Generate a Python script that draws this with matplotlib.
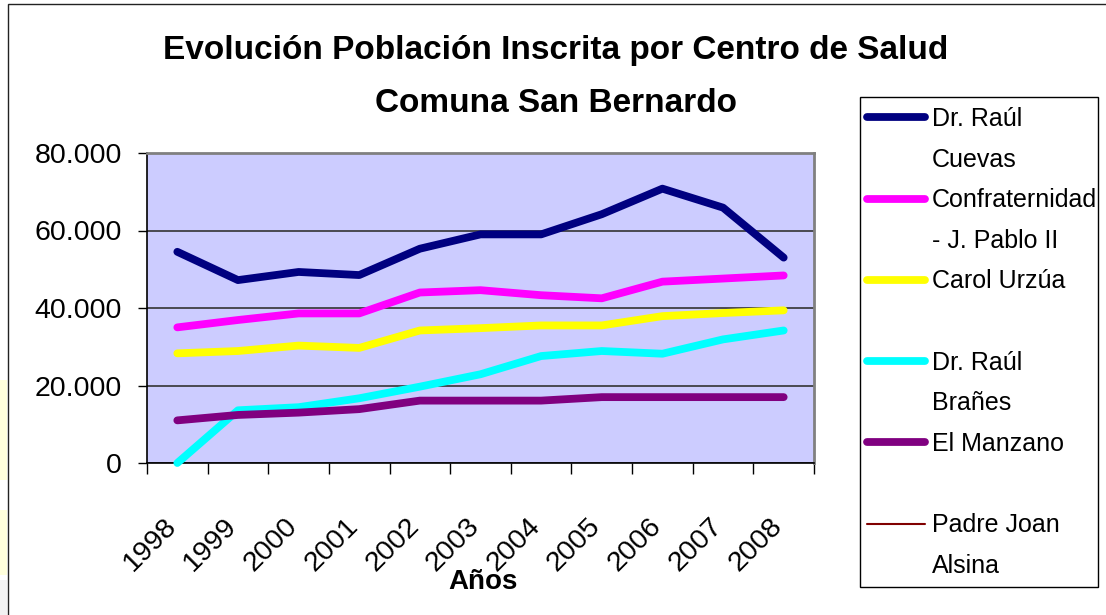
import matplotlib
matplotlib.use("Agg")
import numpy as np
import matplotlib.pyplot as plt
import matplotlib.transforms as mtransforms
from matplotlib.lines import Line2D
from matplotlib.patches import Rectangle
from matplotlib import font_manager as fm
from matplotlib.ticker import FuncFormatter, FixedLocator

# data
years = ["1998", "1999", "2000", "2001", "2002", "2003",
         "2004", "2005", "2006", "2007", "2008"]
cuevas = [54500, 47200, 49300, 48500, 55300, 59000, 59000, 64200, 70800, 65900, 53000]
confraternidad = [35000, 36900, 38600, 38600, 44000, 44600, 43300, 42500, 46800, 47600, 48400]
urzua = [28300, 28900, 30300, 29700, 34200, 34800, 35500, 35500, 37900, 38700, 39400]
branes = [0, 13600, 14400, 16700, 19700, 22900, 27600, 28900, 28200, 31900, 34200]
manzano = [11000, 12400, 13000, 13900, 16100, 16100, 16100, 17000, 17000, 17000, 17000]
alsina = [None, None, None, None, None, None, None, None, None, None, None]

series = [
    (["Dr. Raúl", "Cuevas"], cuevas, "#000080", 5.6),
    (["Confraternidad", "- J. Pablo II"], confraternidad, "#FF00FF", 5.6),
    (["Carol Urzúa", " "], urzua, "#FFFF00", 5.6),
    (["Dr. Raúl", "Brañes"], branes, "#00FFFF", 5.6),
    (["El Manzano", " "], manzano, "#800080", 5.6),
    (["Padre Joan", "Alsina"], alsina, "#800000", 1.5),
]


def pick(*names):
    avail = {f.name for f in fm.fontManager.ttflist}
    for n in names:
        if n in avail:
            return n
    return "DejaVu Sans"


base = pick("Liberation Sans", "Arial", "DejaVu Sans")
plt.rcParams["font.family"] = base

W, H = 1106, 615
fig = plt.figure(figsize=(W / 100, H / 100), dpi=100)
fig.patch.set_facecolor("white")

# left edge decorations and outer frame
fig.patches.append(Rectangle((0, 1 - 480 / H), 7 / W, 100 / H, transform=fig.transFigure,
                             facecolor="#FFFFDC", edgecolor="none", zorder=0))
fig.patches.append(Rectangle((0, 1 - 575 / H), 7 / W, 65 / H, transform=fig.transFigure,
                             facecolor="#FFFFDC", edgecolor="none", zorder=0))
fig.patches.append(Rectangle((0, 0), 7 / W, 35 / H, transform=fig.transFigure,
                             facecolor="#F2F2F2", edgecolor="none", zorder=0))
fig.patches.append(Rectangle((7.5 / W, -0.1), 1.2, 1 - 3.5 / H + 0.1, transform=fig.transFigure,
                             facecolor="none", edgecolor="#222222", linewidth=1.0, zorder=1))
# legend box
fig.patches.append(Rectangle((860 / W, 1 - 587 / H), 238 / W, 490 / H, transform=fig.transFigure,
                             facecolor="white", edgecolor="black", linewidth=1.0, zorder=1))

ax = fig.add_axes([147 / W, 1 - 463 / H, (814 - 147) / W, (463 - 153) / H])
ax.set_facecolor("#CCCCFF")

x = np.arange(len(years))
handles, labels = [], []
for lab, vals, col, lw in series:
    y = np.array([np.nan if v is None else v for v in vals], dtype=float)
    ln, = ax.plot(x, y, color=col, linewidth=lw, solid_capstyle="round",
                  solid_joinstyle="round", zorder=3, clip_on=False)
    handles.append(ln)
    labels.append(lab[0])
    handles.append(Line2D([], [], color="none"))
    labels.append(lab[1])

ax.set_xlim(-0.5, len(years) - 0.5)
ax.set_ylim(0, 80000)

# y axis
ax.yaxis.set_major_locator(FixedLocator([0, 20000, 40000, 60000, 80000]))
ax.yaxis.set_major_formatter(FuncFormatter(lambda v, _: f"{int(v):,}".replace(",", ".")))
ax.tick_params(axis="y", direction="out", length=6.5, width=1, pad=11.5, labelsize=20.5)
ax.grid(axis="y", color="#333333", linewidth=1.2, zorder=1)
ax.set_axisbelow(True)

# x axis: ticks at category borders, labels at centres
ax.xaxis.set_major_locator(FixedLocator(np.arange(len(years) + 1) - 0.5))
ax.xaxis.set_minor_locator(FixedLocator(x))
ax.set_xticklabels([], minor=False)
ax.set_xticklabels(years, minor=True, rotation=45, ha="right", va="top",
                   rotation_mode="anchor")
ax.tick_params(axis="x", which="major", direction="out", length=8, width=1)
ax.tick_params(axis="x", which="minor", length=0, pad=36, labelsize=20.5)
shift = mtransforms.ScaledTranslation(-14 / 100, 0, fig.dpi_scale_trans)
for t in ax.get_xticklabels(minor=True):
    t.set_transform(t.get_transform() + shift)

for s in ("left", "bottom"):
    ax.spines[s].set_color("black")
    ax.spines[s].set_linewidth(1.2)
for s in ("top", "right"):
    ax.spines[s].set_color("#808080")
    ax.spines[s].set_linewidth(2)

ax.set_xlabel("Años", fontweight="bold", fontsize=20)
ax.xaxis.set_label_coords(0.503, -0.342)

fig.text(556 / W, 1 - 50 / H, "Evolución Población Inscrita por Centro de Salud",
         ha="center", va="center", fontweight="bold", fontsize=24)
fig.text(556 / W, 1 - 103 / H, "Comuna San Bernardo",
         ha="center", va="center", fontweight="bold", fontsize=24)

leg = fig.legend(handles, labels, loc="upper left", bbox_to_anchor=(860 / W, 1 - 100 / H),
                 bbox_transform=fig.transFigure, borderaxespad=0, frameon=False,
                 fontsize=18, handlelength=2.32, handletextpad=0.28,
                 labelspacing=0.665, borderpad=0.28)

fig.savefig("out.png", dpi=100)
